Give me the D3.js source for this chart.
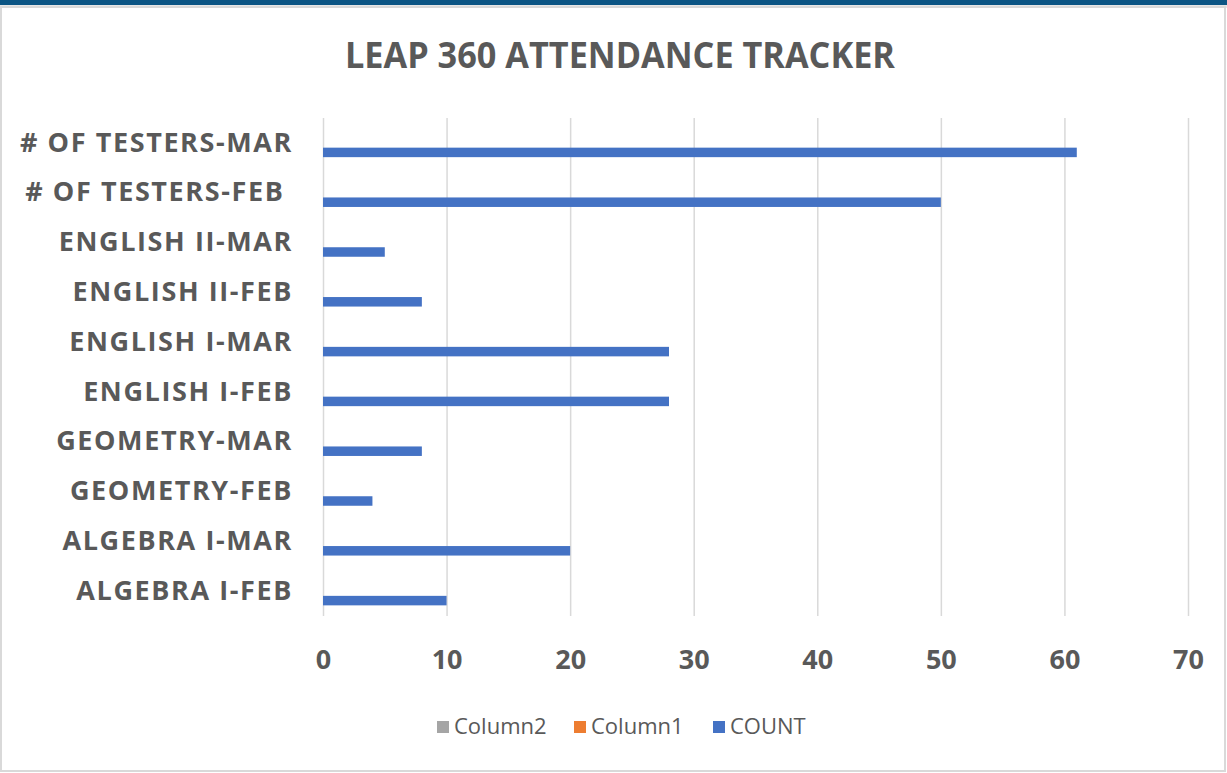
<!DOCTYPE html>
<html>
<head>
<meta charset="utf-8">
<script src="https://cdn.jsdelivr.net/npm/d3@7"></script>
<style>
  body { margin: 0; background: #fff; }
  svg { display: block; font-family: "Open Sans", "Liberation Sans", sans-serif; }
</style>
</head>
<body>
<div id="chart"></div>
<script>
// Chart data (top to bottom as shown)
const categories = [
  "# OF TESTERS-MAR", "# OF TESTERS-FEB ", "ENGLISH II-MAR", "ENGLISH II-FEB",
  "ENGLISH I-MAR", "ENGLISH I-FEB", "GEOMETRY-MAR", "GEOMETRY-FEB",
  "ALGEBRA I-MAR", "ALGEBRA I-FEB"
];
const seriesNames = ["Column2", "Column1", "COUNT"];
const countValues = [61, 50, 5, 8, 28, 28, 8, 4, 20, 10];
const column1Values = [null, null, null, null, null, null, null, null, null, null];
const column2Values = [null, null, null, null, null, null, null, null, null, null];
const xTicks = [0, 10, 20, 30, 40, 50, 60, 70];

const seriesColors = { Column2: "#a5a5a5", Column1: "#ed7d31", COUNT: "#4472c4" };
const textColor = "#595959";
const fontFamily = '"Open Sans", "Liberation Sans", sans-serif';

const width = 1227, height = 773;
const margin = { top: 118, right: 39, bottom: 157, left: 323 };

const svg = d3.select("#chart").append("svg")
  .attr("width", width)
  .attr("height", height);

// Frame: dark blue strip on top and light gray border
svg.append("rect").attr("x", 0).attr("y", 0).attr("width", width).attr("height", 5).attr("fill", "#0b5584");
svg.append("rect").attr("x", 0).attr("y", 5).attr("width", width).attr("height", 3).attr("fill", "#e6e6e6");
svg.append("rect")
  .attr("x", 1).attr("y", 7).attr("width", width - 3).attr("height", height - 9)
  .attr("fill", "none").attr("stroke", "#d9d9d9").attr("stroke-width", 2);

// Scales
const x = d3.scaleLinear()
  .domain([0, 70])
  .range([margin.left, width - margin.right]);

const y = d3.scaleBand()
  .domain(categories)
  .range([margin.top, height - margin.bottom])
  .paddingInner(0)
  .paddingOuter(0);

const ySub = d3.scaleBand()
  .domain(seriesNames)
  .range([0, y.bandwidth()])
  .paddingInner(0)
  .paddingOuter(1.12);

// Gridlines
svg.append("g")
  .attr("transform", `translate(0,${height - margin.bottom})`)
  .call(d3.axisBottom(x).tickValues(xTicks).tickSize(-(height - margin.top - margin.bottom)).tickFormat(""))
  .call(g => g.select(".domain").remove())
  .call(g => g.selectAll("line").attr("stroke", "#d9d9d9").attr("stroke-width", 1.5));

// Bars
const rows = categories.map((c, i) => ({
  category: c,
  Column2: column2Values[i],
  Column1: column1Values[i],
  COUNT: countValues[i]
}));

seriesNames.forEach(s => {
  svg.append("g")
    .selectAll("rect")
    .data(rows.filter(d => d[s] != null))
    .join("rect")
    .attr("x", x(0))
    .attr("y", d => y(d.category) + ySub(s))
    .attr("width", d => x(d[s]) - x(0))
    .attr("height", ySub.bandwidth())
    .attr("fill", seriesColors[s]);
});

// X axis labels
svg.append("g")
  .attr("transform", `translate(0,${height - margin.bottom})`)
  .call(d3.axisBottom(x).tickValues(xTicks).tickSize(0).tickPadding(34))
  .attr("font-family", fontFamily)
  .call(g => g.select(".domain").remove())
  .call(g => g.selectAll("text")
    .attr("fill", textColor)
    .style("font-size", "27px")
    .style("font-weight", "bold"));

// Y axis labels
svg.append("g")
  .attr("transform", `translate(${margin.left},0)`)
  .call(d3.axisLeft(y).tickSize(0).tickPadding(30))
  .attr("font-family", fontFamily)
  .call(g => g.select(".domain").remove())
  .call(g => g.selectAll("text")
    .attr("fill", textColor)
    .style("white-space", "pre")
    .style("font-size", "27px")
    .style("letter-spacing", "1.6px")
    .style("font-weight", "bold"));

// Title
svg.append("text")
  .attr("x", 620)
  .attr("y", 68)
  .attr("text-anchor", "middle")
  .attr("fill", textColor)
  .attr("textLength", 550)
  .attr("lengthAdjust", "spacingAndGlyphs")
  .style("font-size", "36px")
  .style("font-weight", "bold")
  .text("LEAP 360 ATTENDANCE TRACKER");

// Legend
const legendX = [437, 574, 713];
const legend = svg.append("g").selectAll("g")
  .data(seriesNames)
  .join("g")
  .attr("transform", (d, i) => `translate(${legendX[i]},721)`);

legend.append("rect")
  .attr("width", 12)
  .attr("height", 12)
  .attr("fill", d => seriesColors[d]);

legend.append("text")
  .attr("x", 17)
  .attr("y", 13)
  .attr("fill", textColor)
  .style("font-size", "22px")
  .text(d => d);
</script>
</body>
</html>
